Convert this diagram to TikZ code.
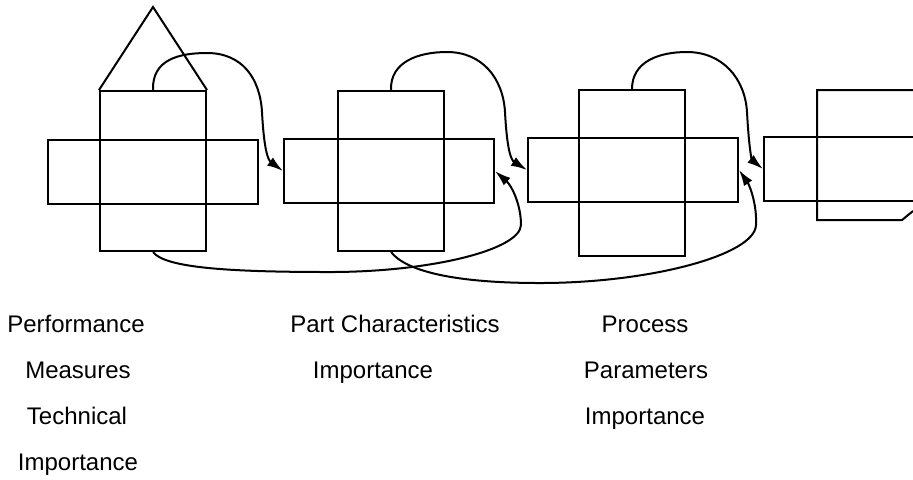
\documentclass[tikz,border=0pt]{standalone}
\usepackage{fontspec}
\setmainfont{Liberation Sans}
\usetikzlibrary{arrows.meta}

\begin{document}
\begin{tikzpicture}[x=0.5pt,y=-0.5pt,line width=1pt,
  hbox/.style={draw,inner sep=0pt,minimum width=105pt,minimum height=32pt},
  vbox/.style={draw,inner sep=0pt,minimum width=53pt,minimum height=80pt},
  flow/.style={-{Latex[length=8pt,width=5pt]}},
  txt/.style={font=\fontsize{12}{14}\selectfont,anchor=base,inner sep=0pt}]
  \useasboundingbox (0,0) rectangle (913,479);
  \clip (0,0) rectangle (913,479);
  % first house
  \node[hbox] (h1) at (153,172) {};
  \node[vbox] (v1) at (153,171) {};
  \coordinate (apex) at (153,7);
  \draw (v1.north west) -- (apex) -- (v1.north east);
  % second and third matrix
  \node[hbox] (h2) at (389,171) {};
  \node[vbox] (v2) at (391,171) {};
  \node[hbox] (h3) at (633,170) {};
  \node[vbox,minimum height=83pt] (v3) at (632,173) {};
  % last matrix, cut at the edge
  \node[hbox] (h4) at (869,169) {};
  \coordinate (v4) at (817,90);
  \draw (913,90) -- (v4) |- (902,220) -- (913,211);
  % arrows over the top
  \draw[flow] (v1.north) .. controls (152,60) and (178,53) .. (207,53)
    .. controls (242,53) and (260,78) .. (262,112)
    .. controls (264,150) and (268,160) .. (h2.west);
  \draw[flow] (v2.north) .. controls (390,62) and (418,52) .. (447,52)
    .. controls (482,52) and (503,78) .. (505,112)
    .. controls (507,150) and (511,160) .. (h3.west);
  \draw[flow] (v3.north) .. controls (632,62) and (658,52) .. (687,52)
    .. controls (722,52) and (745,78) .. (747,112)
    .. controls (749,150) and (752,160) .. (h4.west);
  % arrows underneath
  \draw[flow] (v1.south) .. controls (165,268) and (230,272) .. (330,272)
    .. controls (430,272) and (520,250) .. (521,225)
    .. controls (521,205) and (512,186) .. (h2.east);
  \draw[flow] (v2.south) .. controls (405,270) and (450,283) .. (540,283)
    .. controls (650,283) and (755,255) .. (756,225)
    .. controls (757,205) and (750,186) .. (h3.east);
  % captions
  \node[txt] (perf) at (76,332) {Performance};
  \node[txt] (meas) at (78,378) {Measures};
  \node[txt] (tech) at (77,424) {Technical};
  \node[txt] (impA) at (78,470) {Importance};
  \node[txt] (partchar) at (395,332) {Part Characteristics};
  \node[txt] (impB) at (373,378) {Importance};
  \node[txt] (proc) at (645,332) {Process};
  \node[txt] (param) at (646,378) {Parameters};
  \node[txt] (impC) at (645,424) {Importance};
\end{tikzpicture}
\end{document}
